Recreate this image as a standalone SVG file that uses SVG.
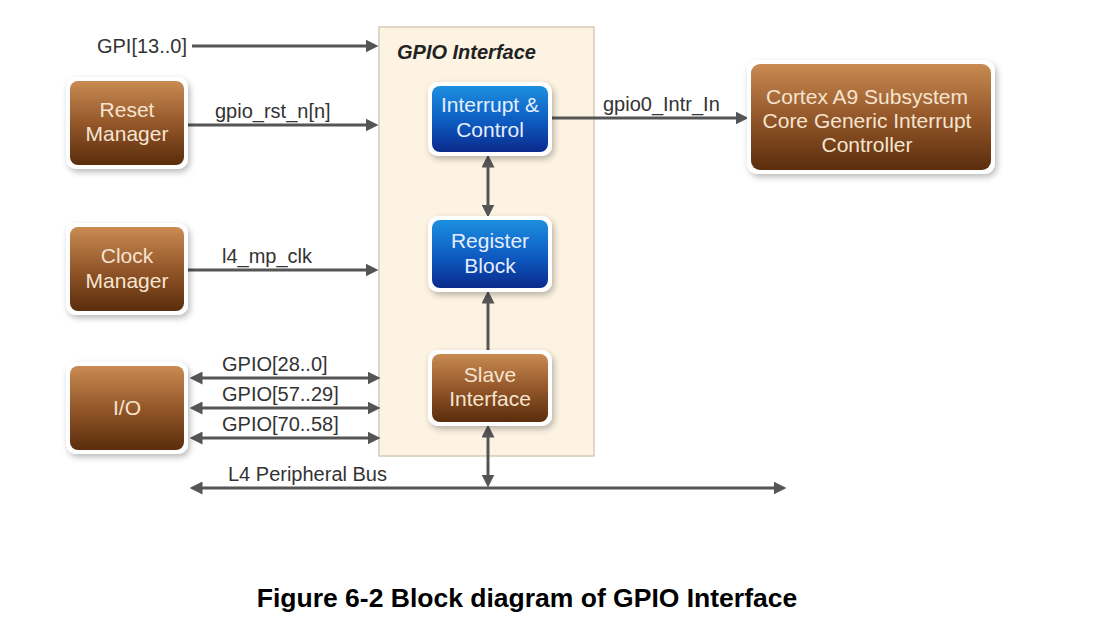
<svg xmlns="http://www.w3.org/2000/svg" width="1093" height="633" viewBox="0 0 1093 633">
<style>
.lbl{font-family:"Liberation Sans",Arial,sans-serif;font-size:20px;fill:#333}
.nt{font-family:"Liberation Sans",Arial,sans-serif;font-size:21px;text-anchor:middle}
.br{fill:#f6e4cf}
.bl{fill:#e6eeff}
.conn{stroke:#555;stroke-width:3;fill:none}
.frame{fill:#fff}
</style>
<defs>
<linearGradient id="gBrown" x1="0" y1="0" x2="0" y2="1">
<stop offset="0" stop-color="#c98b52"/>
<stop offset="0.5" stop-color="#94572a"/>
<stop offset="1" stop-color="#5a2d0c"/>
</linearGradient>
<linearGradient id="gBlue" x1="0" y1="0" x2="0" y2="1">
<stop offset="0" stop-color="#1c8fe0"/>
<stop offset="0.55" stop-color="#0d5ac0"/>
<stop offset="1" stop-color="#0b2a8c"/>
</linearGradient>
<filter id="sh" x="-20%" y="-20%" width="140%" height="150%">
<feDropShadow dx="2" dy="3" stdDeviation="3" flood-color="#000" flood-opacity="0.28"/>
</filter>
<marker id="ah" viewBox="0 0 12 12" markerWidth="13" markerHeight="13" refX="6" refY="6" orient="auto-start-reverse" markerUnits="userSpaceOnUse">
<path d="M0,0 L12,6 L0,12 z" fill="#555"/>
</marker>
</defs>
<rect width="1093" height="633" fill="#fff"/>

<g id="gpio-interface">
<rect x="379" y="27" width="215" height="429" fill="#fdf3e3" stroke="#d6cbb8" stroke-width="1.5"/>
<text x="397" y="59" font-family="'Liberation Sans',Arial,sans-serif" font-size="20" font-weight="bold" font-style="italic" fill="#222">GPIO Interface</text>
</g>

<g id="connectors">
<line class="conn" x1="192" y1="46" x2="372" y2="46" marker-end="url(#ah)"/>
<line class="conn" x1="188" y1="125" x2="372" y2="125" marker-end="url(#ah)"/>
<line class="conn" x1="188" y1="270" x2="372" y2="270" marker-end="url(#ah)"/>
<line class="conn" x1="196" y1="378" x2="374" y2="378" marker-start="url(#ah)" marker-end="url(#ah)"/>
<line class="conn" x1="196" y1="408" x2="374" y2="408" marker-start="url(#ah)" marker-end="url(#ah)"/>
<line class="conn" x1="196" y1="438" x2="374" y2="438" marker-start="url(#ah)" marker-end="url(#ah)"/>
<line class="conn" x1="550" y1="118" x2="742" y2="118" marker-end="url(#ah)"/>
<line class="conn" x1="488" y1="161" x2="488" y2="211" marker-start="url(#ah)" marker-end="url(#ah)"/>
<line class="conn" x1="488" y1="352" x2="488" y2="297" marker-end="url(#ah)"/>
<line class="conn" x1="488" y1="431" x2="488" y2="481" marker-start="url(#ah)" marker-end="url(#ah)"/>
<line class="conn" x1="196" y1="488" x2="780" y2="488" marker-start="url(#ah)" marker-end="url(#ah)"/>
<text class="lbl" x="187" y="53" text-anchor="end">GPI[13..0]</text>
<text class="lbl" x="215" y="118">gpio_rst_n[n]</text>
<text class="lbl" x="222" y="263">l4_mp_clk</text>
<text class="lbl" x="222" y="371">GPIO[28..0]</text>
<text class="lbl" x="222" y="401">GPIO[57..29]</text>
<text class="lbl" x="222" y="431">GPIO[70..58]</text>
<text class="lbl" x="228" y="481">L4 Peripheral Bus</text>
<text class="lbl" x="603" y="111">gpio0_Intr_In</text>
</g>

<g id="reset-manager">
<rect class="frame" x="66" y="77" width="122" height="92" rx="10" filter="url(#sh)"/>
<rect x="70" y="81" width="114" height="84" rx="8" fill="url(#gBrown)"/>
<text class="nt br" x="127" y="117">Reset</text>
<text class="nt br" x="127" y="141">Manager</text>
</g>

<g id="clock-manager">
<rect class="frame" x="66" y="223" width="122" height="92" rx="10" filter="url(#sh)"/>
<rect x="70" y="227" width="114" height="84" rx="8" fill="url(#gBrown)"/>
<text class="nt br" x="127" y="263">Clock</text>
<text class="nt br" x="127" y="288">Manager</text>
</g>

<g id="io">
<rect class="frame" x="66" y="362" width="122" height="92" rx="10" filter="url(#sh)"/>
<rect x="70" y="366" width="114" height="84" rx="8" fill="url(#gBrown)"/>
<text class="nt br" x="127" y="415">I/O</text>
</g>

<g id="interrupt-control">
<rect class="frame" x="428" y="82" width="124" height="74" rx="10" filter="url(#sh)"/>
<rect x="432" y="86" width="116" height="66" rx="8" fill="url(#gBlue)"/>
<text class="nt bl" x="490" y="112">Interrupt &amp;</text>
<text class="nt bl" x="490" y="137">Control</text>
</g>

<g id="register-block">
<rect class="frame" x="428" y="216" width="124" height="76" rx="10" filter="url(#sh)"/>
<rect x="432" y="220" width="116" height="68" rx="8" fill="url(#gBlue)"/>
<text class="nt bl" x="490" y="248">Register</text>
<text class="nt bl" x="490" y="273">Block</text>
</g>

<g id="slave-interface">
<rect class="frame" x="428" y="350" width="124" height="76" rx="10" filter="url(#sh)"/>
<rect x="432" y="354" width="116" height="68" rx="8" fill="url(#gBrown)"/>
<text class="nt br" x="490" y="382">Slave</text>
<text class="nt br" x="490" y="406">Interface</text>
</g>

<g id="cortex-gic">
<rect class="frame" x="747" y="60" width="248" height="114" rx="11" filter="url(#sh)"/>
<rect x="751" y="64" width="240" height="106" rx="9" fill="url(#gBrown)"/>
<text class="nt br" x="867" y="104">Cortex A9 Subsystem</text>
<text class="nt br" x="867" y="128">Core Generic Interrupt</text>
<text class="nt br" x="867" y="152">Controller</text>
</g>

<text x="527" y="607" text-anchor="middle" font-family="'Liberation Sans',Arial,sans-serif" font-size="26.5" font-weight="bold" fill="#000">Figure 6-2 Block diagram of GPIO Interface</text>
</svg>
